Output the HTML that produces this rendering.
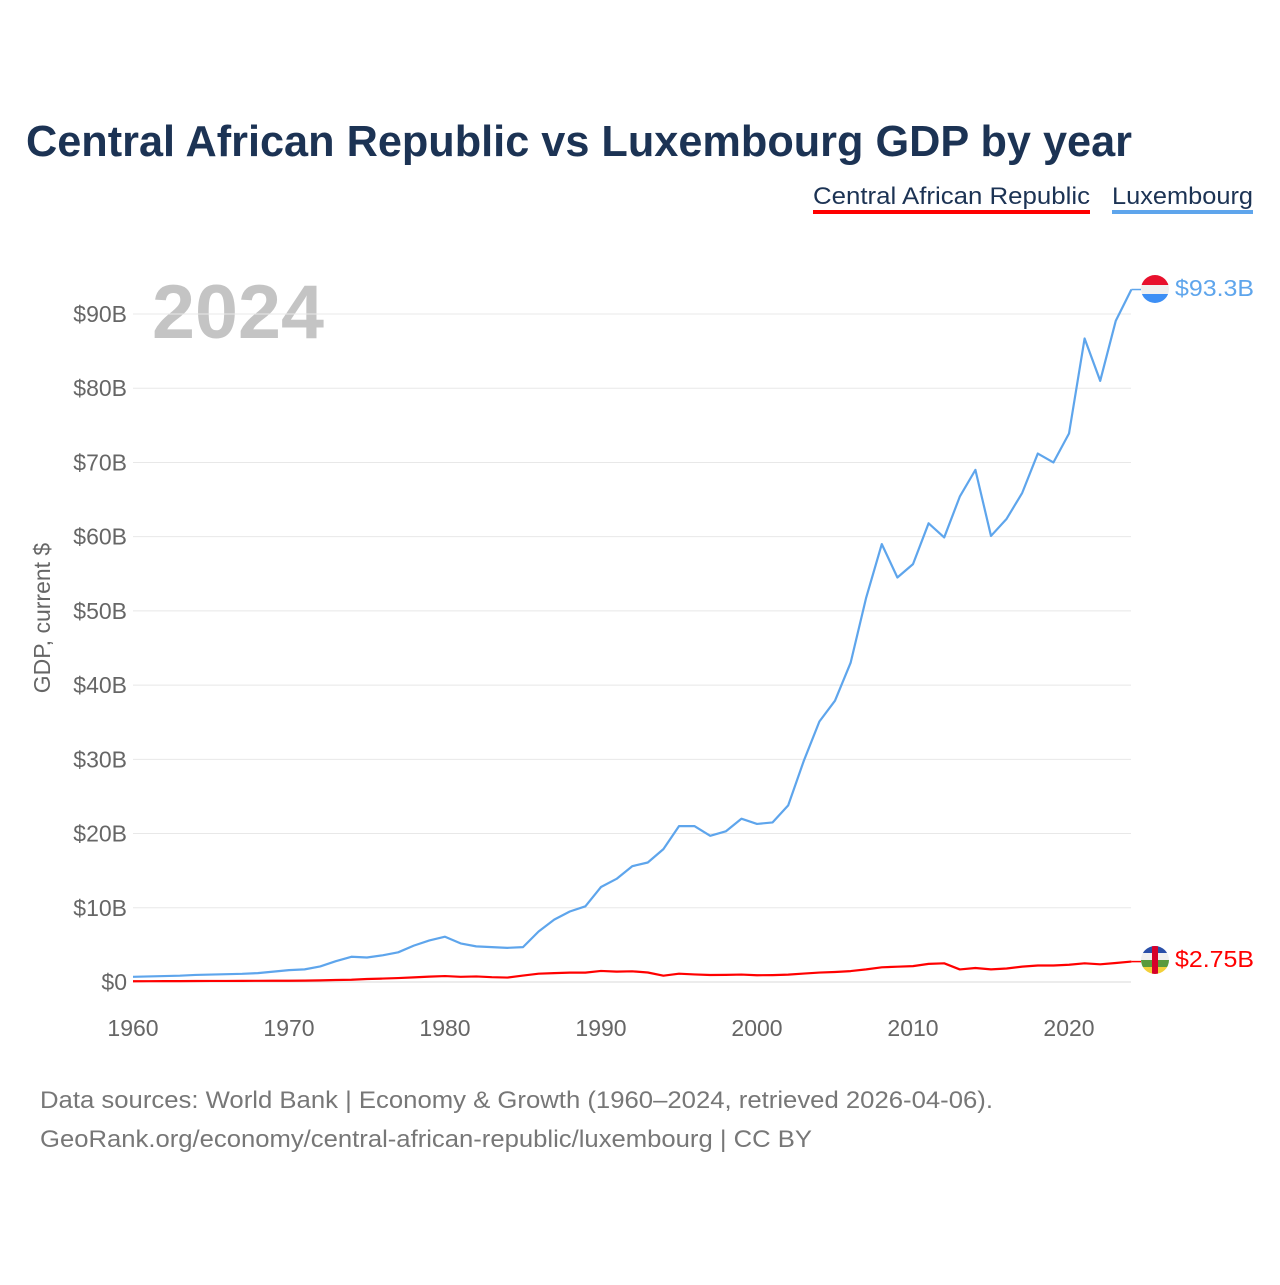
<!DOCTYPE html>
<html><head><meta charset="utf-8"><style>
body{margin:0;background:#fff;width:1280px;height:1280px;overflow:hidden;font-family:"Liberation Sans",sans-serif}
svg text{font-family:"Liberation Sans",sans-serif}
</style></head><body>
<svg id="c" width="1280" height="1280">
<text x="26" y="156" font-size="44" font-weight="bold" fill="#1c3354" textLength="1106" lengthAdjust="spacingAndGlyphs">Central African Republic vs Luxembourg GDP by year</text>
<g>
<text x="813" y="204" font-size="24" fill="#1c3354" textLength="277" lengthAdjust="spacingAndGlyphs">Central African Republic</text>
<rect x="813" y="210" width="277" height="4" fill="#ff0000"/>
<text x="1112" y="204" font-size="24" fill="#1c3354" textLength="141" lengthAdjust="spacingAndGlyphs">Luxembourg</text>
<rect x="1112" y="210" width="141" height="4" fill="#5ea5ec"/>
</g>
<text x="152" y="338" font-size="76" font-weight="bold" fill="#c4c4c4" textLength="172" lengthAdjust="spacingAndGlyphs">2024</text>
<text transform="translate(50,618) rotate(-90)" font-size="23" fill="#666" text-anchor="middle">GDP, current $</text>
<g id="grid"></g><g id="lines"></g>
<g>
<clipPath id="cl1"><circle cx="1155" cy="289" r="14"/></clipPath>
<g clip-path="url(#cl1)"><rect x="1141" y="275" width="28" height="10" fill="#e8112d"/><rect x="1141" y="285" width="28" height="9" fill="#f0f0f0"/><rect x="1141" y="294" width="28" height="10" fill="#3d8ff5"/></g>
<text x="1175" y="296" font-size="23" fill="#5ea5ec" textLength="79" lengthAdjust="spacingAndGlyphs">$93.3B</text></g>
<g>
<clipPath id="cl2"><circle cx="1155" cy="960" r="14"/></clipPath>
<g clip-path="url(#cl2)"><rect x="1141" y="946" width="28" height="7" fill="#2a4fa8"/><rect x="1141" y="953" width="28" height="7" fill="#f0f0f0"/><rect x="1141" y="960" width="28" height="7" fill="#5a9a3c"/><rect x="1141" y="967" width="28" height="7" fill="#f2d03a"/><rect x="1152" y="946" width="6" height="28" fill="#d6002a"/></g>
<text x="1175" y="967" font-size="23" fill="#ff0000" textLength="79" lengthAdjust="spacingAndGlyphs">$2.75B</text></g>
<text x="40" y="1108" font-size="24" fill="#777" textLength="953" lengthAdjust="spacingAndGlyphs">Data sources: World Bank | Economy &amp; Growth (1960–2024, retrieved 2026-04-06).</text>
<text x="40" y="1147" font-size="24" fill="#777" textLength="772" lengthAdjust="spacingAndGlyphs">GeoRank.org/economy/central-african-republic/luxembourg | CC BY</text>
</svg>
<script>
const years=[];for(let y=1960;y<=2024;y++)years.push(y);
const lux=[0.7,0.75,0.8,0.85,0.95,1.0,1.05,1.1,1.2,1.4,1.6,1.7,2.1,2.8,3.4,3.3,3.6,4.0,4.9,5.6,6.1,5.2,4.8,4.7,4.6,4.7,6.8,8.4,9.5,10.2,12.8,13.9,15.6,16.1,17.9,21.0,21.0,19.7,20.3,22.0,21.3,21.5,23.8,29.8,35.1,37.9,43.0,51.8,59.0,54.5,56.3,61.8,59.9,65.4,69.0,60.1,62.4,65.9,71.2,70.0,73.9,86.7,81.0,89.1,93.3];
const car=[0.1,0.11,0.12,0.12,0.13,0.14,0.14,0.15,0.16,0.17,0.17,0.19,0.22,0.27,0.3,0.4,0.46,0.53,0.62,0.72,0.8,0.7,0.75,0.65,0.6,0.87,1.12,1.2,1.26,1.26,1.49,1.4,1.44,1.28,0.85,1.12,1.02,0.94,0.96,1.0,0.91,0.93,0.99,1.14,1.27,1.35,1.47,1.7,1.98,2.06,2.14,2.44,2.52,1.69,1.89,1.7,1.82,2.07,2.22,2.22,2.32,2.52,2.38,2.56,2.75];
const yTicks=[0,10,20,30,40,50,60,70,80,90];
const yTickLabels=["$0","$10B","$20B","$30B","$40B","$50B","$60B","$70B","$80B","$90B"];
const xTicks=[1960,1970,1980,1990,2000,2010,2020];
const NS="http://www.w3.org/2000/svg";
const X=y=>133+(y-1960)*15.6, Y=v=>982-v*7.422;
const grid=document.getElementById('grid'),lines=document.getElementById('lines');
function mk(t,a,p){const e=document.createElementNS(NS,t);for(const k in a)e.setAttribute(k,a[k]);p.appendChild(e);return e;}
yTicks.forEach((v,i)=>{
 const l=mk('line',{x1:133,x2:1131,y1:Y(v),y2:Y(v),stroke:v===0?'#d8d8d8':'#e8e8e8','stroke-width':1},grid);
 
 
 const t=mk('text',{x:127,y:Y(v)+8,'font-size':23,fill:'#666','text-anchor':'end'},grid);t.textContent=yTickLabels[i];
 
 
});
xTicks.forEach(y=>{
 const t=mk('text',{x:X(y),y:1036,'font-size':23,fill:'#666','text-anchor':'middle'},grid);t.textContent=y;
 
 
});
function line(d,c,n){
 const p=mk('polyline',{points:d.map((v,i)=>X(years[i])+','+Y(v)).join(' '),fill:'none',stroke:c,'stroke-width':2.2,'stroke-linejoin':'round'},lines);
 
 
 const last=d[d.length-1];
 mk('line',{x1:X(2024),x2:1141,y1:Y(last),y2:Y(last),stroke:c,'stroke-width':1.5},lines);
}
line(lux,'#5ea5ec','luxembourg-line');
line(car,'#ff0000','car-line');
</script>
</body></html>
